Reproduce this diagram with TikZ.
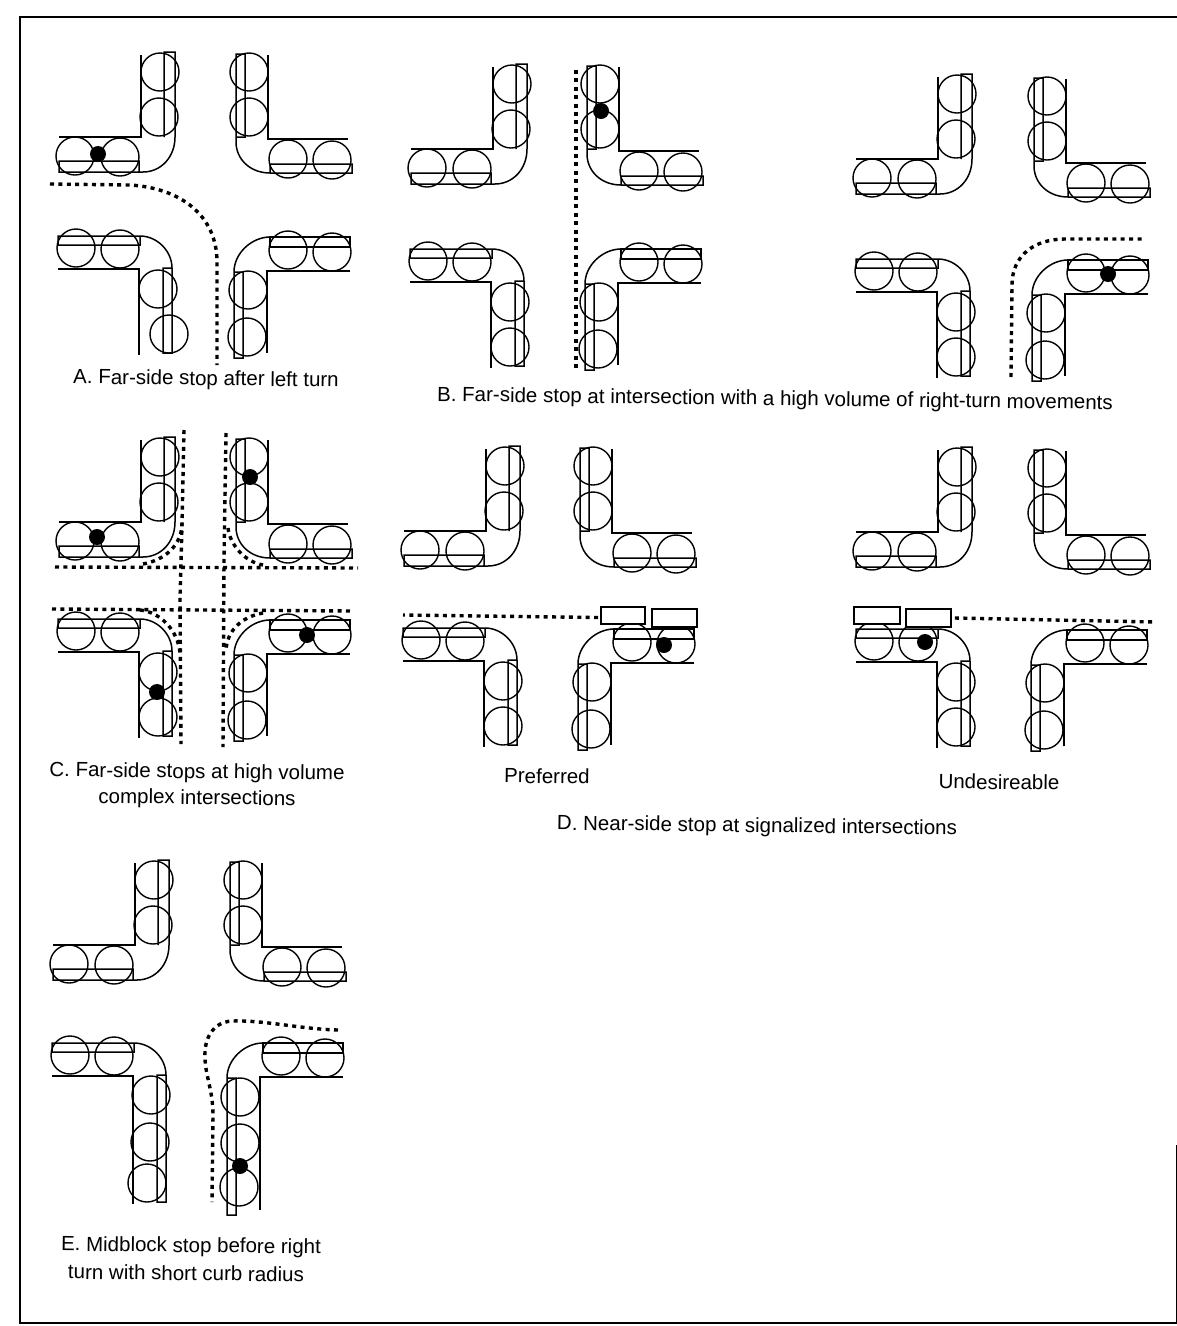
\documentclass[tikz,border=0pt]{standalone}
\usepackage{fontspec}
\setmainfont{Liberation Sans}
\tikzset{
  road/.style={line width=1.5pt,line join=miter},
  bay/.style={line width=1.4pt},
  busstop/.style={fill=black,draw=none},
  pathdots/.style={line width=3.4pt,dash pattern=on 4pt off 4.4pt},
  signalbox/.style={line width=1.8pt,draw,fill=white},
  captext/.style={font=\fontsize{20.5}{24}\selectfont,inner sep=0pt,rotate=-0.7,anchor=center},
  frameline/.style={line width=1.8pt}
}
\def\nwstd{19/-65,18/-20,-66/19,-21/20}
\def\nestd{-19/-67,-19/-22,20/20,64/21}
\def\swstd{-63/-21,-19/-20,19/20,19/65}
\def\sestd{-19/19,-20/66,21/-21,65/-19}
\newcommand{\rnw}[3]{\begin{scope}[shift={(#1,#2)}]
  \draw[road] (0,-82)--(0,0)--(-82,0);
  \draw[road] (23,0)--(23,-85)--(34,-85)--(34,0) .. controls (34,20) and (20,35) .. (2,35) -- (-82,35)--(-82,24)--(-2,24)--(-2,35);
  \foreach \a/\b in #3 {\draw[bay] (\a,\b) circle (19);}
\end{scope}}
\newcommand{\rne}[3]{\begin{scope}[shift={(#1,#2)}]
  \draw[road] (0,-84)--(0,0)--(80,0);
  \draw[road] (-32,-2)--(-23,-2)--(-23,-85)--(-32,-85)--(-32,3) .. controls (-32,20) and (-18,34) .. (2,34) -- (84,34)--(84,25)--(2,25)--(2,34);
  \foreach \a/\b in #3 {\draw[bay] (\a,\b) circle (19);}
\end{scope}}
\newcommand{\rsw}[4]{\begin{scope}[shift={(#1,#2)}]
  \draw[road] (-81,0)--(0,0)--(0,#3);
  \draw[road] (1,-33)--(1,-24)--(-81,-24)--(-81,-33)--(1,-33) .. controls (18,-33) and (33,-18) .. (33,-1) -- (33,#3-2)--(24,#3-2)--(24,-1)--(33,-1);
  \foreach \a/\b in #4 {\draw[bay] (\a,\b) circle (19);}
\end{scope}}
\newcommand{\rse}[4]{\begin{scope}[shift={(#1,#2)}]
  \draw[road] (83,0)--(0,0)--(0,#3);
  \draw[road] (3,-24)--(83,-24)--(83,-34)--(3,-34)--(3,-24);
  \draw[road] (3,-34) .. controls (-15,-34) and (-33,-18) .. (-33,1) -- (-33,#3+5)--(-24,#3+5)--(-24,1)--(-33,1);
  \foreach \a/\b in #4 {\draw[bay] (\a,\b) circle (19);}
\end{scope}}
\begin{document}
\begin{tikzpicture}[x=1pt,y=-1pt]
\useasboundingbox (0,0) rectangle (1177,1326);
% frame
\coordinate (f1) at (1177,17);
\coordinate (f2) at (20,17);
\coordinate (f3) at (20,1323);
\coordinate (f4) at (1177,1323);
\coordinate (f5) at (1177,1145);
\draw[frameline] (f1)--(f2)--(f3)--(f4)--(f5);
% A
\rnw{141}{137}{\nwstd}
\rne{268}{139}{\nestd}
\rsw{139}{269}{86}{{-63/-21,-19/-20,19/20,30/65}}
\rse{267}{271}{82}{\sestd}
\fill[busstop] (98,154) circle (8);
\draw[pathdots] (50,184) -- (130,185) .. controls (180,188) and (217,215) .. (217,262) -- (217,365);
% B
\rnw{493}{149}{\nwstd}
\rne{619}{151}{\nestd}
\rsw{491}{282}{86}{\swstd}
\rse{618}{283}{82}{\sestd}
\fill[busstop] (601,111) circle (8);
\draw[pathdots] (576,70) -- (576,372);
% B3
\rnw{938}{159}{\nwstd}
\rne{1066}{163}{\nestd}
\rsw{937}{292}{86}{\swstd}
\rse{1065}{294}{82}{\sestd}
\fill[busstop] (1108,274) circle (8);
\draw[pathdots] (1011,377) -- (1012,285) .. controls (1012,255) and (1035,239) .. (1065,239) -- (1142,239);
% C
\rnw{141}{522}{\nwstd}
\rne{268}{524}{\nestd}
\rsw{139}{652}{86}{\swstd}
\rse{267}{654}{82}{\sestd}
\fill[busstop] (97,537) circle (8);
\fill[busstop] (250,477) circle (8);
\fill[busstop] (157,692) circle (8);
\fill[busstop] (307,635) circle (8);
\draw[pathdots] (184,430) -- (182,525) -- (180,600) -- (181,744);
\draw[pathdots] (226,433) -- (224,560) -- (223,747);
\draw[pathdots] (55,567) -- (358,568);
\draw[pathdots] (52,609) -- (353,611);
\draw[pathdots] (143,564) .. controls (165,560) and (182,545) .. (182,523);
\draw[pathdots] (228,528) .. controls (230,545) and (245,562) .. (263,565);
\draw[pathdots] (140,610) .. controls (160,612) and (178,630) .. (180,653);
\draw[pathdots] (263,613) .. controls (240,617) and (227,632) .. (226,650);
% D preferred
\rnw{486}{531}{\nwstd}
\rne{612}{533}{\nestd}
\rsw{484}{661}{86}{\swstd}
\rse{611}{663}{82}{\sestd}
\node[signalbox,minimum width=44pt,minimum height=17pt,inner sep=0pt] (s1) at (623,615.5) {};
\node[signalbox,minimum width=45pt,minimum height=18pt,inner sep=0pt] (s2) at (674.5,618) {};
\fill[busstop] (664,645) circle (8);
\draw[pathdots] (s1.west) ++(-2,2) -- (403,615);
% D undesirable
\rnw{938}{532}{\nwstd}
\rne{1066}{535}{\nestd}
\rsw{937}{662}{86}{\swstd}
\rse{1064}{664}{82}{\sestd}
\node[signalbox,minimum width=46pt,minimum height=17pt,inner sep=0pt] (s3) at (877,615.5) {};
\node[signalbox,minimum width=45pt,minimum height=18pt,inner sep=0pt] (s4) at (928.5,618) {};
\fill[busstop] (925,642) circle (8);
\draw[pathdots] (s4.east) ++(3,0) -- (1155,622);
% E
\rnw{135}{945}{\nwstd}
\rne{262}{947}{\nestd}
\rsw{133}{1076}{128}{{-63/-21,-19/-20,18/19,17/66,14/107}}
\rse{260}{1077}{133}{{-20/20,-20/66,-21/110,21/-21,65/-19}}
\fill[busstop] (240,1166) circle (8);
\draw[pathdots] (338,1030) .. controls (300,1029) and (265,1020) .. (232,1021) .. controls (212,1022) and (204,1040) .. (205,1057) .. controls (205,1075) and (213,1090) .. (213,1115) -- (212,1202);
% captions
\node[captext] (capA) at (206,380) {A. Far-side stop after left turn};
\node[captext] (capB) at (775,400) {B. Far-side stop at intersection with a high volume of right-turn movements};
\node[captext] (capC1) at (197,773) {C. Far-side stops at high volume};
\node[captext] (capC2) at (197,799) {complex intersections};
\node[captext] (capP) at (547,776) {Preferred};
\node[captext] (capU) at (999,782) {Undesireable};
\node[captext] (capD) at (757,827) {D. Near-side stop at signalized intersections};
\node[captext] (capE1) at (191,1247) {E. Midblock stop before right};
\node[captext] (capE2) at (186,1273) {turn with short curb radius};
\end{tikzpicture}
\end{document}
